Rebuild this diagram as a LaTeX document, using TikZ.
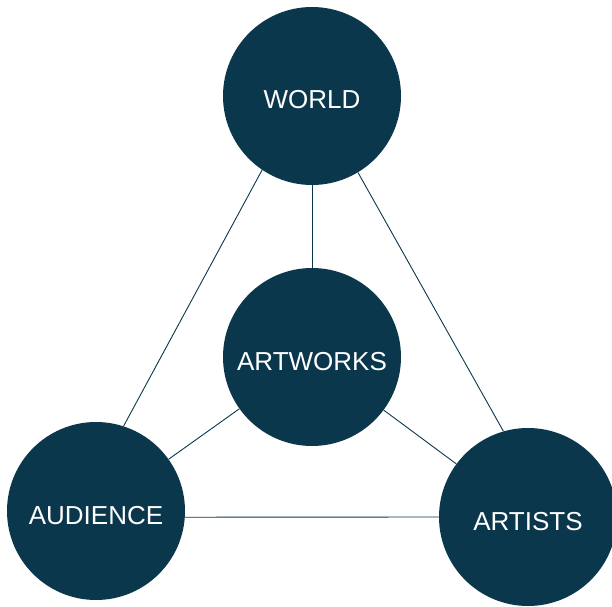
\documentclass[tikz,border=0pt]{standalone}
\usepackage{fontspec}
\setmainfont{Liberation Sans}
\usepackage{tikz}
\definecolor{deepteal}{HTML}{0A374C}
\tikzset{
  ball/.style={
    circle, fill=deepteal, draw=none, inner sep=0pt,
    minimum size=178pt, text=white,
    font=\fontsize{26}{31}\selectfont,
    text height=26pt, text depth=0pt
  },
  link/.style={draw=deepteal, line width=0.9pt}
}

\begin{document}
\begin{tikzpicture}[x=1pt,y=1pt]
  \useasboundingbox (0,0) rectangle (612,606);

  \node[ball] (world)    at (312,510) {WORLD};
  \node[ball] (artworks) at (312,249) {ARTWORKS};
  \node[ball] (audience) at (96,95)   {AUDIENCE};
  \node[ball] (artists)  at (528,89)  {ARTISTS};

  % outer triangle
  \draw[link] (world.236.8) -- (audience.72);
  \draw[link] (world.301.7) -- (artists.106);
  \draw[link] (audience.-4) -- (artists.180);

  % spokes to the centre
  \draw[link] (world) -- (artworks);
  \draw[link] (artworks) -- (audience);
  \draw[link] (artworks) -- (artists);
\end{tikzpicture}
\end{document}
